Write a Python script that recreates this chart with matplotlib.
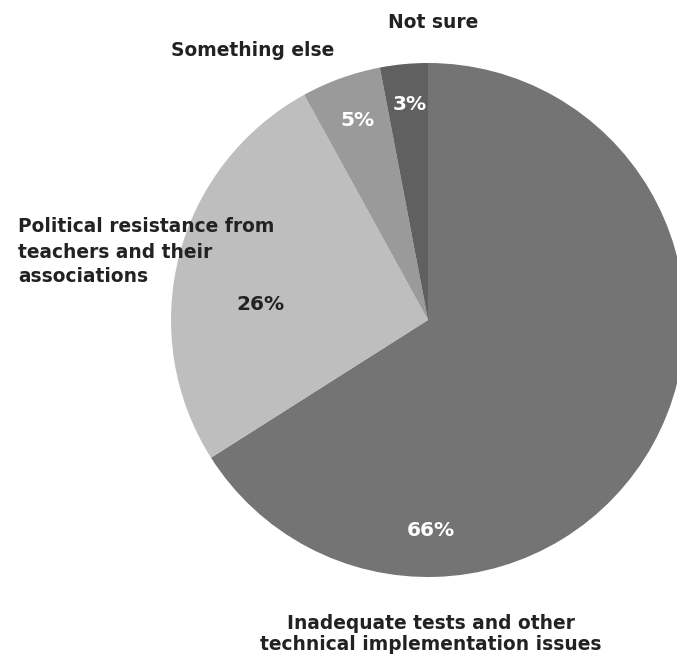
import matplotlib.pyplot as plt

# Survey shares, clockwise from 12 o'clock
categories = ["Inadequate tests and other\ntechnical implementation issues",
              "Political resistance from\nteachers and their\nassociations",
              "Something else",
              "Not sure"]
shares = [66, 26, 5, 3]
colors = ["#747474", "#bebebe", "#9a9a9a", "#606060"]
pct_colors = ["white", "#222222", "white", "white"]

# label placement (pixel-like coords, y up)
pct_pos = [(431, 135), (260, 361), (357, 545), (410, 561)]
cat_pos = [(431, 32), (18, 414), (253, 615), (433, 644)]
cat_ha = ["center", "left", "center", "center"]
cat_spacing = [1.12, 1.4, 1.0, 1.0]

fig = plt.figure(figsize=(6.77, 6.66), dpi=100)
ax = fig.add_axes([0, 0, 1, 1])

ax.pie(shares, colors=colors, startangle=90, counterclock=False,
       center=(428, 346), radius=257, frame=True,
       wedgeprops=dict(linewidth=0))

for (x, y), v, c in zip(pct_pos, shares, pct_colors):
    ax.text(x, y, f"{v}%", ha="center", va="center", color=c,
            fontsize=14.5, fontweight="bold")

for (x, y), name, ha, ls in zip(cat_pos, categories, cat_ha, cat_spacing):
    ax.text(x, y, name, ha=ha, va="center", color="#222222",
            fontsize=13.4, fontweight="bold", linespacing=ls,
            multialignment=ha)

ax.set_xlim(0, 677)
ax.set_ylim(0, 666)
ax.set_aspect("equal")
ax.axis("off")

fig.savefig("out.png", dpi=100)
